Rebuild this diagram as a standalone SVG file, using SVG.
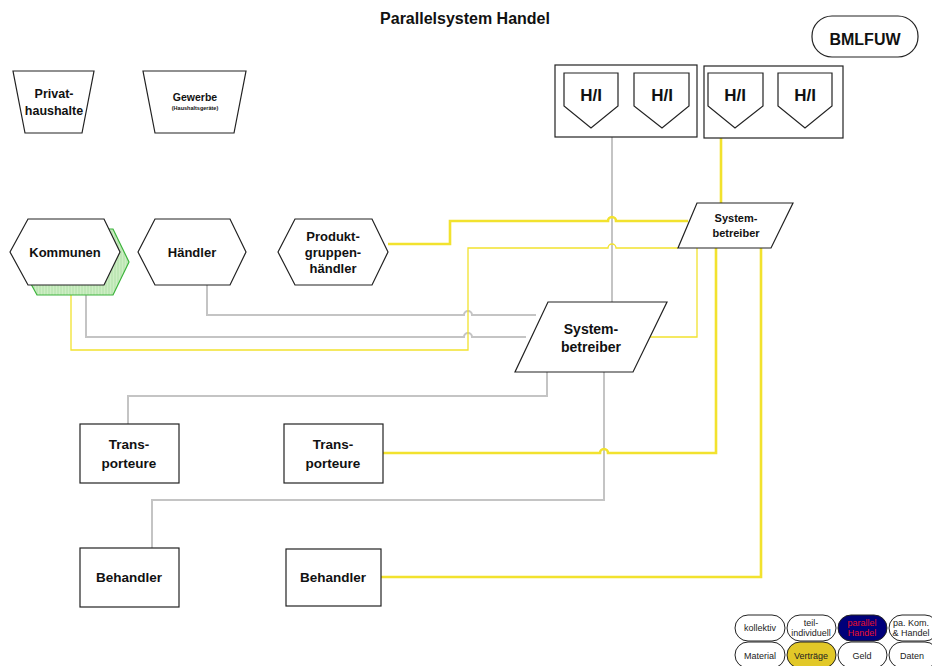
<svg xmlns="http://www.w3.org/2000/svg" width="932" height="666" viewBox="0 0 932 666">
  <style>
    .shape { fill: #ffffff; stroke: #222222; stroke-width: 1.2; }
    .lbl { font-family: "Liberation Sans", Arial, sans-serif; font-weight: bold; fill: #111111; text-anchor: middle; }
    .gray { fill: none; stroke: #c4c4c4; stroke-width: 2; }
    .yel { fill: none; stroke: #f2e22e; stroke-width: 2.6; }
    .yel-thin { fill: none; stroke: #f2e22e; stroke-width: 1.3; }
    .pill { fill: #ffffff; stroke: #222222; stroke-width: 1; }
    .leg { font-family: "Liberation Sans", Arial, sans-serif; font-size: 9px; fill: #222222; text-anchor: middle; }
  </style>
  <defs>
    <pattern id="hatch" width="3" height="6" patternUnits="userSpaceOnUse">
      <rect width="3" height="6" fill="#cdeec4"/>
      <line x1="1" y1="0" x2="1" y2="6" stroke="#a8dca0" stroke-width="0.8"/>
    </pattern>
  </defs>
  <rect width="932" height="666" fill="#ffffff"/>

  <text class="lbl" x="465" y="24" font-size="16">Parallelsystem Handel</text>

  <!-- connectors -->
  <g id="connectors">
    <!-- gray -->
    <path class="gray" d="M612 137 V302"/>
    <path class="gray" d="M207 285 V315 H464 A4 4 0 0 1 472 315 H536"/>
    <path class="gray" d="M86 286 V337 H464 A4 4 0 0 1 472 337 H526"/>
    <path class="gray" d="M547 372 V396 H128 V424"/>
    <path class="gray" d="M604 372 V500 H152 V548"/>
    <!-- yellow -->
    <path class="yel" d="M721 138 V203"/>
    <path class="yel" d="M388 244 H450 V221 H608 A4 4 0 0 1 616 221 H688"/>
    <path class="yel-thin" d="M71 286 V350 H468 V248 H608 A4 4 0 0 1 616 248 H678"/>
    <path class="yel-thin" d="M697 248 V337 H650"/>
    <path class="yel" d="M383 453 H600 A4 4 0 0 1 608 453 H716 V248"/>
    <path class="yel" d="M381 577 H761 V248"/>
  </g>

  <g id="bmlfuw">
    <rect class="shape" x="812" y="16" width="106" height="41" rx="20" ry="20"/>
    <text class="lbl" x="865" y="45" font-size="16">BMLFUW</text>
  </g>

  <g id="privathaushalte">
    <polygon class="shape" points="13,71 94,71 82,133 25,133"/>
    <text class="lbl" x="54" y="98" font-size="12.5">Privat-</text>
    <text class="lbl" x="54" y="115" font-size="12.5">haushalte</text>
  </g>

  <g id="gewerbe">
    <polygon class="shape" points="143,71 246,71 234,133 155,133"/>
    <text class="lbl" x="195" y="101" font-size="10.5">Gewerbe</text>
    <text class="lbl" x="195" y="110" font-size="5.5">(Haushaltsgeräte)</text>
  </g>

  <g id="kommunen">
    <polygon points="19,262 37,229 113,229 129,262 113,295 37,295" fill="url(#hatch)" stroke="#3cb43c" stroke-width="1.2"/>
    <polygon class="shape" points="10,252 28,219 104,219 120,252 104,285 28,285"/>
    <text class="lbl" x="65" y="257" font-size="13">Kommunen</text>
  </g>

  <g id="haendler">
    <polygon class="shape" points="138,252 155,219 230,219 246,252 230,285 155,285"/>
    <text class="lbl" x="192" y="257" font-size="13">Händler</text>
  </g>

  <g id="produktgruppenhaendler">
    <polygon class="shape" points="278,252 295,219 372,219 388,252 372,285 295,285"/>
    <text class="lbl" x="333" y="241" font-size="13">Produkt-</text>
    <text class="lbl" x="333" y="257" font-size="13">gruppen-</text>
    <text class="lbl" x="333" y="273" font-size="13">händler</text>
  </g>

  <g id="hi-group-1">
    <rect class="shape" x="555" y="65" width="142" height="72"/>
    <polygon class="shape" points="564,73 618,73 618,106 591,128 564,106"/>
    <polygon class="shape" points="634,73 689,73 689,106 662,128 634,106"/>
    <text class="lbl" x="591" y="101" font-size="17">H/I</text>
    <text class="lbl" x="662" y="101" font-size="17">H/I</text>
  </g>

  <g id="hi-group-2">
    <rect class="shape" x="704" y="66" width="139" height="72"/>
    <polygon class="shape" points="708,73 763,73 763,106 735,128 708,106"/>
    <polygon class="shape" points="778,73 832,73 832,106 805,128 778,106"/>
    <text class="lbl" x="735" y="101" font-size="17">H/I</text>
    <text class="lbl" x="805" y="101" font-size="17">H/I</text>
  </g>

  <g id="systembetreiber-small">
    <polygon class="shape" points="697,203 793,203 771,248 678,248"/>
    <text class="lbl" x="736" y="222" font-size="11">System-</text>
    <text class="lbl" x="736" y="237" font-size="11">betreiber</text>
  </g>

  <g id="systembetreiber-large">
    <polygon class="shape" points="548,302 667,302 633,372 515,372"/>
    <text class="lbl" x="591" y="334" font-size="14">System-</text>
    <text class="lbl" x="591" y="352" font-size="14">betreiber</text>
  </g>

  <g id="transporteure-1">
    <rect class="shape" x="80" y="424" width="99" height="59"/>
    <text class="lbl" x="129" y="449" font-size="13.5">Trans-</text>
    <text class="lbl" x="129" y="468" font-size="13.5">porteure</text>
  </g>

  <g id="transporteure-2">
    <rect class="shape" x="284" y="424" width="99" height="59"/>
    <text class="lbl" x="333" y="449" font-size="13.5">Trans-</text>
    <text class="lbl" x="333" y="468" font-size="13.5">porteure</text>
  </g>

  <g id="behandler-1">
    <rect class="shape" x="80" y="548" width="99" height="59"/>
    <text class="lbl" x="129" y="582" font-size="13.5">Behandler</text>
  </g>

  <g id="behandler-2">
    <rect class="shape" x="286" y="549" width="95" height="57"/>
    <text class="lbl" x="333" y="582" font-size="13.5">Behandler</text>
  </g>

  <g id="legend">
    <rect class="pill" x="735" y="615" width="50" height="26" rx="13"/>
    <text class="leg" x="760" y="631">kollektiv</text>
    <rect class="pill" x="787" y="615" width="49" height="26" rx="13"/>
    <text class="leg" x="811" y="626">teil-</text>
    <text class="leg" x="811" y="636">individuell</text>
    <rect class="pill" x="838" y="615" width="49" height="26" rx="13" style="fill:#00007a"/>
    <text class="leg" x="862" y="626" style="fill:#e8102a">parallel</text>
    <text class="leg" x="862" y="636" style="fill:#e8102a">Handel</text>
    <rect class="pill" x="889" y="615" width="49" height="26" rx="13"/>
    <text class="leg" x="911" y="626">pa. Kom.</text>
    <text class="leg" x="911" y="636">&amp; Handel</text>

    <rect class="pill" x="735" y="642" width="50" height="26" rx="13"/>
    <text class="leg" x="760" y="659">Material</text>
    <rect class="pill" x="787" y="642" width="49" height="26" rx="13" style="fill:#e2c828"/>
    <text class="leg" x="811" y="659">Verträge</text>
    <rect class="pill" x="838" y="642" width="49" height="26" rx="13"/>
    <text class="leg" x="862" y="659">Geld</text>
    <rect class="pill" x="889" y="642" width="49" height="26" rx="13"/>
    <text class="leg" x="912" y="659">Daten</text>
  </g>
</svg>
